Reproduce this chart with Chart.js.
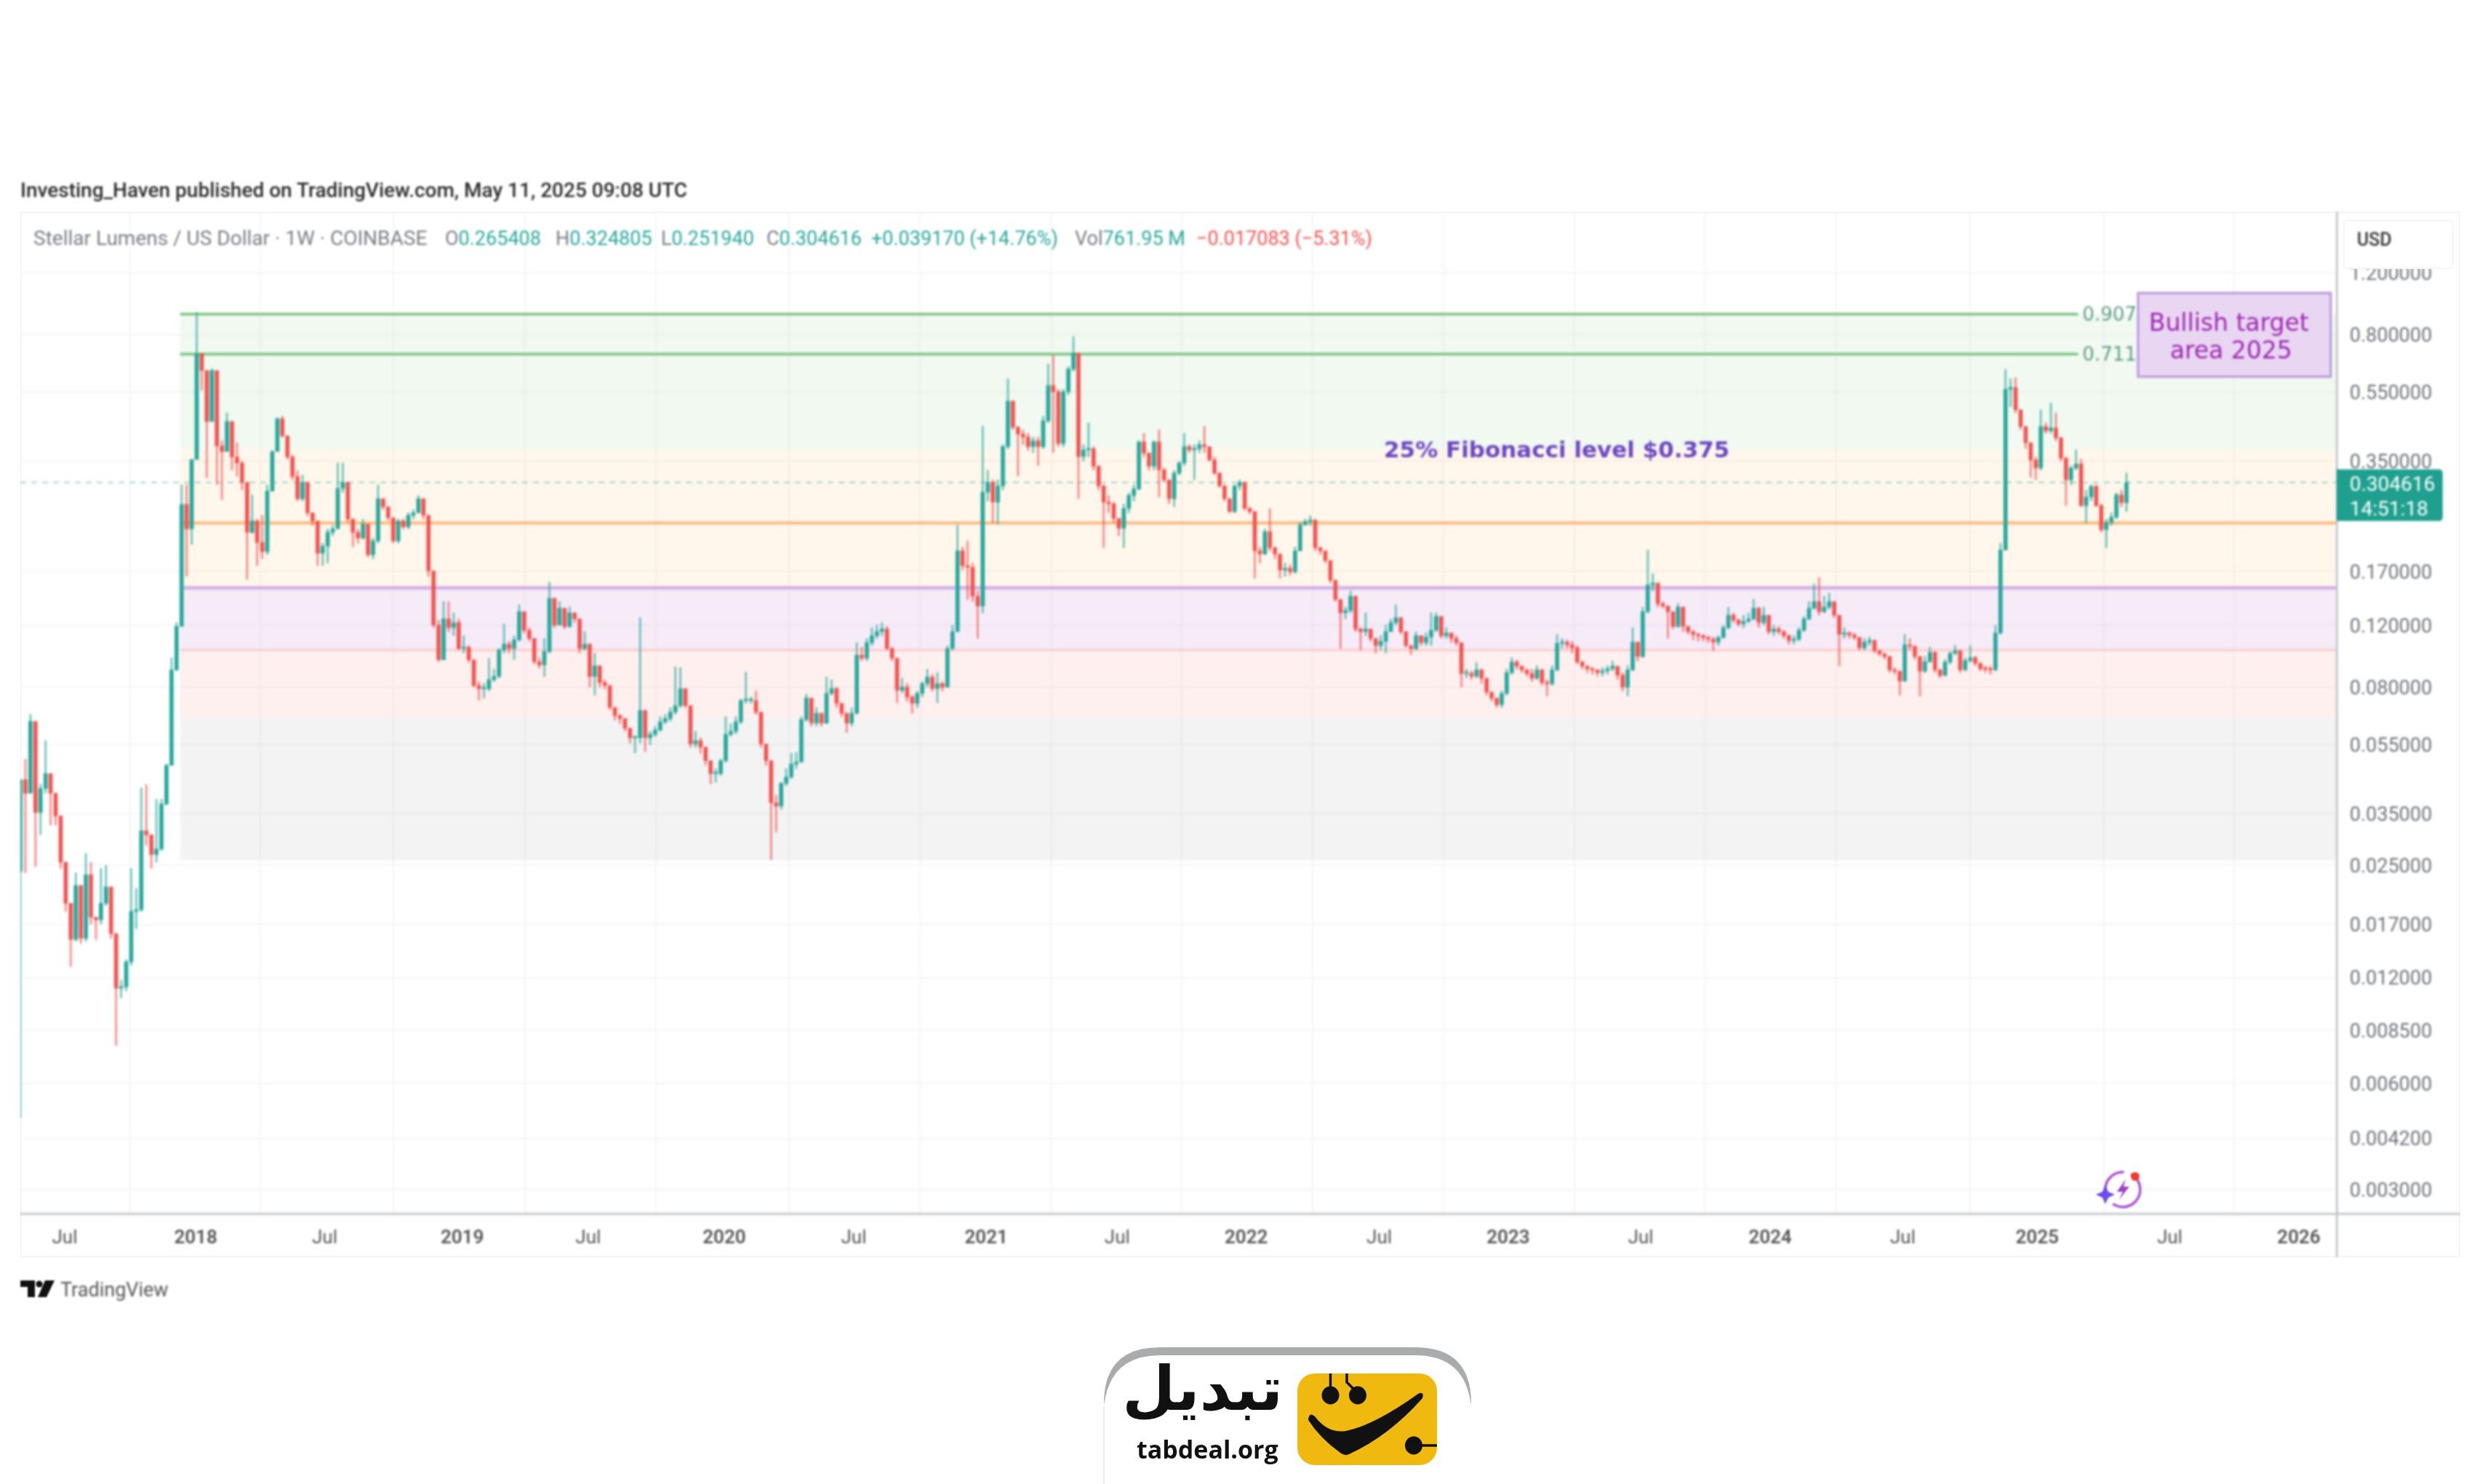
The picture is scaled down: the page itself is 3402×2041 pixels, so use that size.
<!DOCTYPE html>
<html lang="en">
<head>
<meta charset="UTF-8">
<title>Stellar Lumens / US Dollar</title>
<script src="https://cdn.jsdelivr.net/npm/chart.js"></script>
<style>
  body { margin: 0; background: #fff; width: 3402px; height: 2041px; overflow: hidden; position: relative; font-family: Roboto, sans-serif; }
  canvas { position: absolute; left: 0; top: 0; filter: blur(1.7px); }
  .t { position: absolute; white-space: nowrap; line-height: 1; filter: blur(1.4px); }
  .grey { color: #7a7d85; }
  .teal { color: #26a69a; }
  .red { color: #ef5350; }
  #frame { position: absolute; left: 28px; top: 291px; width: 3355px; height: 1438px; border: 2px solid #f5f5f7; box-sizing: border-box; }
  #usd { position: absolute; left: 3222px; top: 302px; width: 152px; height: 68px; background: #fff; border: 2px solid #f5f5f7; border-radius: 6px; box-sizing: border-box; }
  svg { position: absolute; left: 0; top: 0; }
</style>
</head>
<body>
<div id="frame"></div>
<canvas id="chart" width="3402" height="2041"></canvas>
<div id="usd"></div>

<svg width="3402" height="2041" viewBox="0 0 3402 2041" style="pointer-events:none">
  <!-- tradingview mark -->
  <g fill="#111" style="filter:blur(1px)">
    <path d="M28 1761 H48 V1784 H38 V1770 H28 Z"/>
    <circle cx="54" cy="1766" r="4.5"/>
    <path d="M62 1761 H75 L64 1784 H52 Z"/>
  </g>
  <!-- bolt badge -->
  <g style="filter:blur(.8px)">
    <circle cx="2919" cy="1636" r="24" fill="none" stroke="#b565d8" stroke-width="4" stroke-dasharray="52 10"/>
    <path d="M2923 1622 L2911 1639 H2919 L2914 1650 L2928 1632 H2920 Z" fill="#9c3fc9"/>
    <path d="M2895 1630 L2899 1639 L2908 1643 L2899 1647 L2895 1656 L2891 1647 L2882 1643 L2891 1639 Z" fill="#6d4df0"/>
    <circle cx="2936" cy="1618" r="6" fill="#f23a30"/>
  </g>
  <!-- tabdeal card -->
  <path d="M1518 1930 Q1518 1853 1595 1853 H1946 Q2023 1853 2023 1930 Z" fill="#aaabad"/>
  <path d="M1518 1935 Q1525 1864 1595 1864 H1946 Q2016 1864 2023 1935 V2041 H1518 Z" fill="#fff"/>
  <path d="M1518 1935 V2041" stroke="#e6e6e6" stroke-width="1.5"/>
  <rect x="1784" y="1889" width="192" height="126" rx="24" fill="#f0b90f"/>
  <g fill="#111">
    <ellipse cx="1829.5" cy="1919" rx="12" ry="12.5"/>
    <ellipse cx="1867" cy="1919" rx="12" ry="12.5"/>
    <ellipse cx="1944" cy="1988" rx="12" ry="12.5"/>
    <path d="M1799 1953 Q1800 1941 1808 1948 Q1826 1972 1851 1968 Q1890 1960 1950 1917 Q1959 1913 1956 1923 Q1910 1975 1855 2000 Q1849 2003 1843 1998 Q1815 1978 1799 1953 Z"/>
  </g>
  <path d="M1829.5 1889 V1908 M1852 1889 V1901 L1863 1912 M1950 1988 H1976" stroke="#111" stroke-width="3.5" fill="none"/>
</svg>

<div class="t" style="left:28px;top:248px;font-size:28px;font-weight:500;color:#2b2b2b">Investing_Haven published on TradingView.com, May 11, 2025 09:08 UTC</div>
<div class="t grey" style="left:46px;top:314px;font-size:28px">Stellar Lumens / US Dollar · 1W · COINBASE</div>
<div class="t grey" style="left:612px;top:315px;font-size:27px">O<span class="teal">0.265408</span></div>
<div class="t grey" style="left:764px;top:315px;font-size:27px">H<span class="teal">0.324805</span></div>
<div class="t grey" style="left:909px;top:315px;font-size:27px">L<span class="teal">0.251940</span></div>
<div class="t grey" style="left:1054px;top:315px;font-size:27px">C<span class="teal">0.304616</span></div>
<div class="t teal" style="left:1198px;top:315px;font-size:27px">+0.039170 (+14.76%)</div>
<div class="t grey" style="left:1478px;top:315px;font-size:27px">Vol<span class="teal">761.95 M</span></div>
<div class="t red" style="left:1645px;top:315px;font-size:27px">−0.017083 (−5.31%)</div>
<div class="t" style="left:3241px;top:317px;font-size:25px;font-weight:500;color:#333">USD</div>
<div class="t" style="left:83px;top:1761px;font-size:27px;color:#555">TradingView</div>
<div class="t" style="left:1560px;top:1868px;width:204px;text-align:center;font-family:'DejaVu Sans',sans-serif;font-weight:700;font-size:84px;color:#111;filter:none" dir="rtl">تبدیل</div>
<div class="t" style="left:1563px;top:1976px;font-family:'Open Sans',sans-serif;font-weight:700;font-size:34px;color:#111;filter:none">tabdeal.org</div>

<script>
// weekly candles, ten per row
const startOpen = 0.024;
const closes = [
  .0437, .040, .064, .0353, .0413, .0455, .040, .0345, .0255, .0195,
  .0154, .0219, .0155, .0235, .0178, .0175, .0195, .0217, .016, .0112,
  .0113, .0133, .0185, .0187, .0313, .0305, .0268, .0278, .0373, .048,
  .0896, .119, .264, .225, .354, .707, .633, .454, .633, .387,
  .373, .454, .36, .346, .305, .22, .237, .206, .194, .288,
  .373, .462, .413, .36, .317, .274, .305, .25, .237, .192,
  .201, .22, .225, .293, .305, .24, .22, .212, .232, .19,
  .208, .274, .26, .242, .208, .237, .228, .246, .25, .274,
  .246, .171, .12, .0957, .125, .118, .122, .103, .104, .0957,
  .0809, .0792, .0792, .084, .0858, .102, .106, .103, .109, .131,
  .116, .11, .0945, .0925, .101, .143, .12, .134, .119, .13,
  .125, .103, .106, .0858, .092, .0825, .0809, .0701, .0665, .0652,
  .0612, .0575, .0575, .0687, .0575, .0588, .0605, .0638, .0652, .068,
  .0709, .0792, .0709, .0552, .0564, .0541, .0495, .0455, .0455, .0495,
  .0588, .06, .0638, .0733, .0733, .0733, .068, .0552, .0495, .0376,
  .0368, .0427, .0445, .0484, .0491, .0647, .0745, .0633, .0675, .0633,
  .0768, .0793, .072, .0675, .0633, .0675, .0987, .0967, .107, .112,
  .115, .117, .103, .0967, .0784, .0801, .075, .072, .0768, .0819,
  .0854, .0793, .0819, .08, .103, .115, .195, .177, .175, .145,
  .136, .286, .305, .268, .298, .385, .518, .437, .418, .41,
  .385, .40, .385, .456, .574, .551, .393, .551, .639, .71,
  .361, .377, .38, .339, .298, .268, .265, .241, .226, .257,
  .28, .292, .397, .369, .339, .397, .331, .31, .274, .324,
  .346, .385, .377, .38, .39, .385, .353, .324, .298, .274,
  .252, .298, .305, .257, .252, .195, .191, .221, .199, .191,
  .172, .174, .17, .195, .231, .236, .238, .199, .195, .183,
  .161, .142, .13, .132, .145, .117, .115, .117, .11, .105,
  .108, .115, .122, .126, .115, .105, .103, .112, .107, .111,
  .116, .127, .112, .114, .11, .107, .0875, .0875, .086, .0896,
  .0848, .0775, .0745, .0714, .0768, .088, .0943, .0918, .0896, .0875,
  .0848, .0896, .0825, .0818, .0896, .1065, .1074, .1055, .1035, .0943,
  .0918, .0902, .0895, .088, .089, .0902, .0918, .0865, .08, .0896,
  .1074, .0978, .131, .156, .158, .138, .136, .131, .119, .135,
  .119, .115, .113, .112, .1107, .1095, .1074, .1107, .118, .128,
  .124, .121, .123, .125, .134, .122, .128, .115, .117, .115,
  .112, .1085, .1095, .116, .125, .134, .14, .131, .135, .14,
  .128, .113, .114, .1125, .1107, .1035, .1074, .1085, .1015, .0995,
  .0978, .0896, .0888, .0833, .1055, .1045, .0978, .0888, .0945, .1005,
  .0896, .0864, .0943, .0997, .1015, .0896, .0952, .097, .0935, .0902,
  .0899, .0896, .114, .196, .56, .5667, .49, .439, .395, .353, .335,
  .439, .427, .435, .408, .357, .31, .335, .344, .262, .277,
  .297, .262, .224, .235, .243, .281, .267, .304616
];
const highs = [
  .0437, .050, .067, .064, .0425, .0565, .0455, .040, .0345, .0255,
  .0195, .0238, .0219, .027, .0255, .0178, .0245, .025, .0217, .016,
  .0118, .0135, .0245, .0215, .0415, .0423, .0305, .0385, .0385, .0485,
  .097, .122, .30, .30, .354, .926, .71, .633, .64, .633,
  .40, .48, .454, .395, .35, .305, .281, .24, .246, .30,
  .375, .465, .47, .413, .365, .329, .32, .305, .25, .237,
  .205, .225, .23, .346, .346, .305, .24, .225, .24, .232,
  .212, .30, .274, .26, .242, .24, .24, .25, .255, .28,
  .274, .246, .171, .124, .14, .14, .13, .125, .112, .105,
  .0957, .083, .082, .0966, .09, .103, .121, .108, .112, .137,
  .131, .118, .11, .097, .11, .159, .143, .14, .134, .135,
  .13, .125, .115, .106, .10, .092, .084, .081, .07, .067,
  .065, .0612, .058, .126, .069, .06, .062, .066, .067, .07,
  .0914, .091, .0792, .0709, .06, .0575, .0541, .0495, .047, .05,
  .066, .063, .066, .074, .0882, .075, .078, .068, .0552, .0495,
  .0395, .043, .047, .052, .0523, .066, .0765, .0745, .07, .0675,
  .0854, .084, .08, .072, .0675, .07, .107, .104, .11, .118,
  .12, .122, .119, .104, .0967, .085, .082, .076, .078, .083,
  .09, .087, .088, .083, .105, .12, .231, .20, .208, .18,
  .15, .44, .33, .31, .31, .39, .60, .52, .44, .43,
  .42, .41, .41, .47, .66, .70, .56, .56, .65, .79,
  .71, .39, .45, .385, .34, .30, .28, .268, .24, .265,
  .285, .30, .40, .42, .37, .40, .43, .335, .31, .33,
  .35, .42, .39, .39, .40, .44, .385, .36, .325, .30,
  .274, .30, .31, .305, .26, .252, .20, .225, .257, .20,
  .19, .18, .178, .20, .235, .24, .245, .24, .20, .195,
  .183, .161, .142, .135, .15, .145, .118, .13, .117, .11,
  .112, .12, .125, .137, .126, .115, .105, .115, .112, .114,
  .13, .13, .127, .118, .114, .112, .107, .09, .089, .094,
  .09, .085, .0775, .0745, .078, .09, .097, .0955, .092, .09,
  .09, .092, .09, .084, .092, .113, .11, .109, .108, .105,
  .095, .092, .091, .09, .091, .092, .095, .09, .088, .092,
  .118, .107, .135, .196, .168, .158, .14, .136, .131, .138,
  .135, .119, .116, .114, .113, .112, .111, .112, .12, .135,
  .13, .125, .128, .13, .142, .135, .135, .128, .12, .119,
  .116, .113, .112, .118, .127, .14, .157, .164, .145, .148,
  .14, .128, .118, .115, .114, .111, .11, .111, .109, .102,
  .10, .098, .091, .089, .113, .11, .105, .098, .098, .104,
  .101, .09, .096, .101, .105, .102, .097, .105, .098, .094,
  .092, .092, .12, .205, .638, .60, .604, .49, .44, .395, .36,
  .49, .45, .512, .48, .41, .36, .34, .377, .355, .29,
  .30, .30, .265, .24, .25, .285, .29, .324805
];
const lows = [
  .0048, .0238, .040, .0248, .0305, .040, .0325, .0325, .0245, .0185,
  .0129, .0152, .015, .0152, .017, .0154, .017, .0192, .0155, .0077,
  .0105, .011, .013, .0165, .0185, .0285, .0245, .0255, .0275, .037,
  .048, .089, .119, .165, .203, .354, .557, .314, .454, .30,
  .272, .373, .33, .317, .29, .162, .218, .177, .185, .19,
  .288, .373, .41, .355, .31, .27, .27, .245, .23, .177,
  .177, .18, .215, .225, .285, .235, .20, .205, .21, .187,
  .185, .205, .255, .238, .205, .205, .225, .225, .24, .25,
  .24, .165, .118, .0945, .0957, .115, .112, .102, .10, .094,
  .08, .0735, .0745, .078, .083, .085, .10, .10, .0957, .108,
  .114, .108, .093, .0905, .0858, .10, .118, .12, .117, .118,
  .122, .10, .102, .08, .076, .08, .079, .069, .0645, .063,
  .06, .0555, .052, .0555, .0525, .055, .058, .06, .063, .064,
  .067, .07, .07, .054, .054, .052, .048, .0425, .043, .045,
  .049, .058, .059, .063, .072, .072, .067, .054, .048, .0259,
  .0311, .036, .042, .044, .047, .049, .064, .062, .062, .062,
  .063, .076, .07, .066, .0595, .062, .067, .095, .095, .105,
  .11, .112, .102, .095, .0722, .077, .073, .0675, .07, .075,
  .08, .078, .0722, .078, .08, .102, .115, .172, .142, .14,
  .11, .13, .27, .234, .232, .29, .38, .43, .318, .39,
  .375, .37, .34, .38, .45, .37, .385, .385, .54, .63,
  .274, .35, .36, .33, .29, .199, .25, .235, .215, .199,
  .25, .27, .29, .36, .33, .33, .277, .305, .265, .26,
  .32, .34, .37, .31, .37, .37, .35, .32, .295, .27,
  .25, .25, .29, .255, .248, .163, .18, .19, .195, .185,
  .163, .165, .166, .168, .195, .23, .23, .195, .19, .18,
  .158, .14, .103, .125, .13, .115, .102, .112, .108, .10,
  .102, .10, .115, .12, .113, .104, .099, .102, .105, .105,
  .105, .115, .11, .11, .107, .105, .08, .085, .084, .085,
  .082, .076, .073, .07, .07, .076, .087, .09, .088, .086,
  .083, .084, .081, .0755, .081, .089, .103, .103, .10, .093,
  .09, .088, .087, .086, .086, .087, .089, .084, .078, .0755,
  .089, .095, .097, .13, .15, .135, .134, .11, .117, .118,
  .115, .113, .109, .108, .108, .107, .1015, .105, .11, .117,
  .122, .119, .118, .122, .124, .118, .12, .113, .112, .113,
  .11, .106, .106, .108, .115, .124, .133, .128, .13, .133,
  .126, .0918, .11, .11, .109, .102, .102, .105, .10, .098,
  .096, .088, .087, .076, .083, .102, .096, .0755, .088, .094,
  .088, .085, .086, .093, .099, .088, .089, .094, .092, .089,
  .088, .087, .089, .113, .196, .50, .48, .43, .38, .315, .31,
  .33, .42, .42, .40, .35, .262, .30, .33, .26, .234,
  .27, .26, .22, .199, .23, .24, .26, .25194
];

// axis labels, x ticks are counted in weeks from the first candle
const yTicks = [1.2, .8, .55, .35, .17, .12, .08, .055, .035, .025, .017, .012, .0085, .006, .0042, .003];
const xTickWeeks = [8.8, 34.8, 60.4, 87.7, 112.7, 139.7, 165.4, 191.7, 217.7, 243.3, 269.7, 295.3, 321.6, 347.3, 373.6, 400.3, 426.6, 452.2];
const xTickLabels = ['Jul', '2018', 'Jul', '2019', 'Jul', '2020', 'Jul', '2021', 'Jul', '2022', 'Jul', '2023', 'Jul', '2024', 'Jul', '2025', 'Jul', '2026'];

// levels of the drawing as they sit on the price scale, top to bottom
const fibLevels = [.915, .705, .379, .234, .153, .102, .0653, .0258];
const fibStartWeek = 31.7;
const fibLabelWeek = 408.4;
const fibLabels = ['0.907', '0.711'];

const lastPrice = closes[closes.length - 1];
const opens = closes.map((c, i) => i === 0 ? startOpen : closes[i - 1]);
const up = closes.map((c, i) => c >= opens[i]);
const TEAL = '#26a69a', RED = '#ef5350';

const drawingsBelow = {
  id: 'drawingsBelow',
  beforeDatasetsDraw(chart) {
    const { ctx, chartArea: a, scales: { x, y } } = chart;
    const left = x.getPixelForValue(fibStartWeek);
    const fills = ['rgba(76,175,80,.08)', 'rgba(76,175,80,.08)', 'rgba(255,152,0,.075)', 'rgba(255,152,0,.075)',
      'rgba(156,39,176,.085)', 'rgba(244,67,54,.08)', 'rgba(120,125,125,.09)'];
    fills.forEach((f, i) => {
      const top = y.getPixelForValue(fibLevels[i]), bot = y.getPixelForValue(fibLevels[i + 1]);
      ctx.fillStyle = f;
      ctx.fillRect(left, top, a.right - left, bot - top);
    });
    const line = (v, x2, col, w) => {
      ctx.strokeStyle = col; ctx.lineWidth = w;
      ctx.beginPath(); ctx.moveTo(left, y.getPixelForValue(v)); ctx.lineTo(x2, y.getPixelForValue(v)); ctx.stroke();
    };
    const labelX = x.getPixelForValue(fibLabelWeek);
    line(fibLevels[0], labelX, '#85c98a', 4);
    line(fibLevels[1], labelX, '#85c98a', 4);
    line(fibLevels[3], a.right, '#fbb97c', 4);
    line(fibLevels[4], a.right, '#d3b2e6', 5);
    line(fibLevels[5], a.right, '#fbd3d3', 4);
    // last price
    ctx.save();
    ctx.setLineDash([8, 7]);
    ctx.strokeStyle = 'rgba(38,166,154,.45)'; ctx.lineWidth = 2;
    ctx.beginPath(); ctx.moveTo(a.left, y.getPixelForValue(lastPrice)); ctx.lineTo(a.right, y.getPixelForValue(lastPrice)); ctx.stroke();
    ctx.restore();
  }
};

const drawingsAbove = {
  id: 'drawingsAbove',
  afterDraw(chart) {
    const { ctx, chartArea: a, scales: { x, y } } = chart;
    ctx.save();
    // axis borders
    ctx.fillStyle = '#c5c7cc';
    ctx.fillRect(a.right - 1, 291, 3, 1438);
    ctx.fillRect(a.left, a.bottom - 1, 3383 - a.left, 3);

    ctx.textBaseline = 'middle';
    ctx.font = '26px "DejaVu Sans"';
    ctx.fillStyle = '#5f9c88';
    ctx.textAlign = 'left';
    fibLabels.forEach((t, i) => ctx.fillText(t, x.getPixelForValue(fibLabelWeek) + 6, y.getPixelForValue(fibLevels[i]) + 2));

    ctx.font = '600 31px "DejaVu Sans"';
    ctx.fillStyle = '#6a45c0';
    ctx.fillText('25% Fibonacci level $0.375', 1903, 621);

    // target box
    ctx.fillStyle = '#e9d6f2';
    ctx.strokeStyle = '#b794dc';
    ctx.lineWidth = 3;
    ctx.fillRect(2940, 403, 265, 115);
    ctx.strokeRect(2940, 403, 265, 115);
    ctx.fillStyle = '#9c27b0';
    ctx.font = '33px "DejaVu Sans"';
    ctx.textAlign = 'center';
    ctx.fillText('Bullish target', 3065, 446);
    ctx.fillText('area 2025', 3068, 484);

    // price tag
    const py = y.getPixelForValue(lastPrice);
    ctx.fillStyle = '#1fa08f';
    ctx.beginPath();
    ctx.roundRect(a.right, py - 18, 146, 71, [0, 5, 5, 0]);
    ctx.fill();
    ctx.fillStyle = '#fff';
    ctx.textAlign = 'left';
    ctx.font = '28px Roboto';
    ctx.fillText(lastPrice.toFixed(6), a.right + 18, py + 4);
    ctx.fillText('14:51:18', a.right + 18, py + 38);
    ctx.restore();
  }
};

new Chart(document.getElementById('chart'), {
  type: 'bar',
  data: {
    datasets: [
      {
        label: 'body',
        order: 1,
        grouped: false,
        barThickness: 5,
        minBarLength: 2,
        backgroundColor: up.map(u => u ? TEAL : RED),
        data: closes.map((c, i) => ({ x: i, y: [Math.min(c, opens[i]), Math.max(c, opens[i])] }))
      },
      {
        label: 'wick',
        order: 2,
        grouped: false,
        barThickness: 2,
        backgroundColor: up.map(u => u ? 'rgba(38,166,154,.7)' : 'rgba(239,83,80,.7)'),
        data: closes.map((c, i) => ({ x: i, y: [lows[i], highs[i]] }))
      }
    ]
  },
  plugins: [drawingsBelow, drawingsAbove],
  options: {
    responsive: false,
    animation: false,
    devicePixelRatio: 1,
    layout: { padding: { left: 28, top: 291, right: 19, bottom: 311 } },
    plugins: { legend: { display: false }, tooltip: { enabled: false } },
    scales: {
      x: {
        type: 'linear',
        min: 0,
        max: 459.7,
        offset: false,
        afterBuildTicks: axis => { axis.ticks = xTickWeeks.map(v => ({ value: v })); },
        afterFit: axis => { axis.height = 61; },
        grid: { color: '#f5f6f8', lineWidth: 2, drawTicks: false },
        border: { display: false },
        ticks: {
          autoSkip: false,
          maxRotation: 0,
          padding: 19,
          color: '#555',
          font: ctx => ({ family: 'Roboto', size: 26, weight: xTickLabels[ctx.index] === 'Jul' ? '400' : '600' }),
          callback: (v, i) => xTickLabels[i]
        }
      },
      y: {
        type: 'logarithmic',
        position: 'right',
        min: .00257,
        max: 1.788,
        afterBuildTicks: axis => { axis.ticks = yTicks.map(v => ({ value: v })); },
        afterFit: axis => { axis.width = 170; },
        grid: { color: '#f5f6f8', lineWidth: 2, drawTicks: false },
        border: { display: false },
        ticks: {
          autoSkip: false,
          padding: 18,
          labelOffset: 3,
          color: '#6f7278',
          font: { family: 'Roboto', size: 27 },
          callback: v => Number(v).toFixed(6)
        }
      }
    }
  }
});
</script>
</body>
</html>
